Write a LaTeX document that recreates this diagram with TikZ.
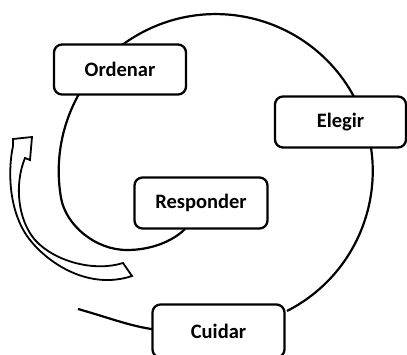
\documentclass[tikz,border=0pt]{standalone}
\usepackage{fontspec}
\setmainfont{Carlito}
\begin{document}
\begin{tikzpicture}[x=1pt,y=-1pt,
  stepbox/.style={draw, line width=2.3pt, rounded corners=8pt, fill=white,
    inner sep=0pt, font=\bfseries\fontsize{20.5}{24}\selectfont},
  loopline/.style={line width=2.2pt},
  bigarrow/.style={draw, line width=1.8pt, fill=white, line join=miter}]
\useasboundingbox (0,0) rectangle (407,355);
% spiral
\coordinate (tailstart) at (78,309);
\draw[loopline] (287,311) arc[start angle=63, end angle=-190, radius=157]
  .. controls (66,225) and (95,250) .. (127,250)
  .. controls (150,250) and (172,242) .. (185,229);
\draw[loopline] (tailstart) .. controls (110,318) and (135,328) .. (160,330);
% block arrow
\draw[bigarrow] (123,263) .. controls (95,272) and (55,262) .. (35,240)
  .. controls (18,220) and (14,185) .. (25,158)
  -- (30,160) -- (32,137) -- (13,139) -- (13,146)
  .. controls (7,175) and (10,215) .. (30,240)
  .. controls (50,265) and (90,290) .. (132,276) -- cycle;
% boxes
\node[stepbox, minimum width=132pt, minimum height=50pt] (ordenar) at (120,69.5) {Ordenar};
\node[stepbox, minimum width=131pt, minimum height=51pt] (elegir) at (340.5,122) {Elegir};
\node[stepbox, minimum width=133pt, minimum height=51pt] (responder) at (201,203) {Responder};
\node[stepbox, minimum width=132pt, minimum height=53pt] (cuidar) at (218.5,331) {Cuidar};
\end{tikzpicture}
\end{document}
